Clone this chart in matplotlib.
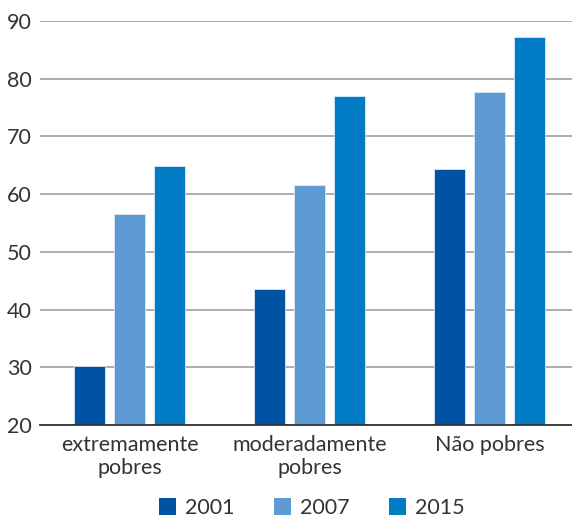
import matplotlib.pyplot as plt
import numpy as np

plt.rcParams['font.family'] = ['Lato', 'DejaVu Sans']

categorias = ["extremamente\npobres", "moderadamente\npobres", "Não pobres"]
anos = ["2001", "2007", "2015"]
v2001 = [30.3, 43.6, 64.3]
v2007 = [56.6, 61.6, 77.7]
v2015 = [64.9, 77.0, 87.3]
cores = ["#0052a5", "#5e9bd4", "#007bc4"]
yticks = [20, 30, 40, 50, 60, 70, 80, 90]

fig = plt.figure(figsize=(5.72, 5.21), dpi=100)
ax = fig.add_axes([0.0699, 0.1843, 0.9301, 0.7754])

x = np.arange(len(categorias))
largura = 0.172
passo = 0.222
for i, (ano, vals) in enumerate(zip(anos, [v2001, v2007, v2015])):
    ax.bar(x + (i - 1) * passo, np.array(vals) - 20, largura, bottom=20,
           color=cores[i], edgecolor="#dbe8f5", linewidth=0.6, label=ano, zorder=3)

ax.set_ylim(20, 90)
ax.set_xlim(-0.497, 2.458)
ax.set_yticks(yticks)
ax.set_yticklabels([str(t) for t in yticks])
ax.set_xticks(x)
ax.set_xticklabels(categorias, linespacing=1.2)
ax.tick_params(axis="both", length=0, labelsize=15.5, colors="#333333")
ax.tick_params(axis="y", pad=6)
ax.tick_params(axis="x", pad=7)
ax.grid(axis="y", color="#a0a0a0", linewidth=1.2, zorder=0)
for s in ["top", "right", "left"]:
    ax.spines[s].set_visible(False)
ax.spines["bottom"].set_color("#333333")
ax.spines["bottom"].set_linewidth(1.3)
ax.spines["bottom"].set_zorder(4)

leg = fig.legend(loc="center", bbox_to_anchor=(0.545, 0.025), ncol=3, frameon=False,
                 fontsize=15.5, handlelength=0.8, handleheight=0.8, handletextpad=0.4,
                 columnspacing=1.85, labelcolor="#333333")
for h in leg.legend_handles:
    h.set_edgecolor("none")

fig.savefig("out.png", dpi=100)
